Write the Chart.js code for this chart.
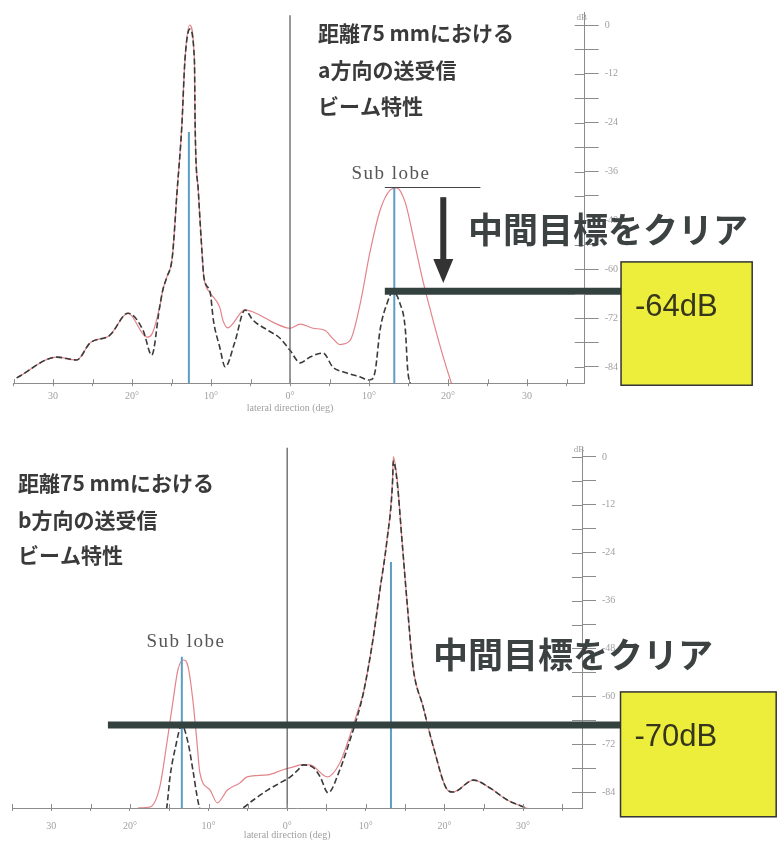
<!DOCTYPE html>
<html>
<head>
<meta charset="utf-8">
<script src="https://cdn.jsdelivr.net/npm/chart.js@4.4.0/dist/chart.umd.min.js"></script>
<style>
  body { margin: 0; background: #fff; width: 777px; height: 849px; overflow: hidden; position: relative; }
  .wrap { position: absolute; left: 0; width: 777px; }
  #wrapA { top: 0; height: 420px; }
  #wrapB { top: 420px; height: 429px; }
</style>
</head>
<body>
<div class="wrap" id="wrapA"><canvas id="chartA"></canvas></div>
<div class="wrap" id="wrapB"><canvas id="chartB"></canvas></div>
<script>
// ---- a方向 (upper plot) ----
const aRedDeg = [-34.6, -29.5, -27.0, -25.3, -22.8, -20.5, -18.1, -17.5, -16.5, -16.1, -15.6, -14.9, -14.3, -13.7, -13.3, -12.7, -12.1, -12.0, -11.6, -11.1, -10.9, -10.1, -8.9, -8.5, -7.9, -5.7, -3.8, -2.2, -0.4, 0.0, 1.3, 2.9, 4.4, 5.4, 6.3, 7.6, 8.9, 10.1, 11.4, 12.7, 13.5, 14.6, 15.6, 16.8, 18.1, 19.4, 20.3, 21.0];
const aRedDb = [-86.7, -81.6, -82.3, -78.1, -76.2, -70.8, -76.7, -76.0, -69.3, -65.1, -62.0, -57.0, -41.0, -25.0, -8.6, 0, -8.6, -25.8, -41.0, -57.0, -62.0, -65.8, -69.3, -72.5, -74.4, -70.0, -71.3, -73.0, -74.4, -74.5, -73.5, -74.5, -75.0, -77.0, -78.5, -77.5, -68.3, -56.0, -45.5, -40.5, -40.0, -43.7, -52.1, -62.7, -72.5, -81.6, -87.2, -91.0];
const aBlackDeg = [-34.6, -29.5, -27.0, -25.3, -22.8, -20.5, -18.6, -17.5, -16.5, -16.1, -15.6, -14.9, -14.3, -13.7, -13.3, -12.7, -12.1, -12.0, -11.6, -11.1, -10.9, -10.1, -9.7, -8.9, -8.2, -7.0, -5.7, -4.7, -2.9, -1.3, 0.0, 1.3, 2.5, 4.2, 5.4, 7.2, 8.9, 9.9, 10.4, 10.8, 11.4, 12.3, 13.0, 13.9, 14.6, 14.9, 15.4, 15.8];
const aBlackDb = [-86.7, -81.6, -82.3, -78.1, -76.2, -70.8, -75.0, -81.1, -69.3, -65.1, -62.0, -57.0, -41.0, -25.0, -8.6, -1.0, -8.6, -25.8, -41.0, -57.0, -62.0, -65.8, -72.5, -79.1, -84.0, -78.0, -70.0, -72.5, -74.9, -76.9, -79.9, -83.0, -81.6, -80.6, -84.0, -85.5, -86.5, -87.2, -87.0, -84.8, -74.9, -68.3, -65.6, -68.3, -74.9, -84.8, -89.0, -92.0];
const aMarkerDeg = [-12.8, 13.2];
const aMarkerDb = [-26.3, -40.0];
const aTargetDeg = [12.0, 41.9];
const aTargetDb = -65.4;

// ---- b方向 (lower plot) ----
const bRedDeg = [-19.0, -17.4, -16.2, -15.3, -14.5, -13.9, -13.2, -12.6, -12.0, -11.5, -11.1, -9.8, -8.9, -7.6, -6.0, -5.1, -2.5, -0.5, 0.8, 1.7, 2.9, 5.1, 6.7, 7.8, 8.9, 9.7, 10.9, 11.8, 12.7, 13.4, 13.5, 14.0, 14.6, 15.3, 16.0, 17.3, 18.6, 20.4, 21.1, 23.7, 25.8, 28.0, 30.0, 31.8];
const bRedDb = [-88.0, -87.7, -82.7, -71.7, -60.9, -53.4, -50.9, -52.6, -60.9, -70.9, -79.2, -83.5, -86.7, -83.5, -81.7, -80.2, -79.7, -78.4, -77.7, -77.2, -77.2, -80.2, -76.7, -70.9, -64.2, -59.1, -45.9, -33.3, -20.8, -5.8, 0, -5.8, -20.8, -37.6, -52.6, -62.7, -72.7, -83.5, -84.0, -81.0, -83.0, -86.0, -87.7, -89.2];
const bBlackDeg = [-15.8, -15.3, -14.9, -14.2, -13.4, -12.6, -12.0, -11.3, -10.7, -8.5, -6.0, -4.3, -2.5, -0.9, 0.4, 1.4, 2.0, 3.2, 4.2, 5.2, 6.7, 8.0, 8.9, 9.7, 10.9, 11.8, 12.7, 13.4, 13.5, 14.0, 14.6, 15.3, 16.0, 17.3, 18.6, 20.4, 21.1, 23.7, 25.8, 28.0, 30.0, 31.8];
const bBlackDb = [-92.7, -87.7, -80.2, -72.7, -67.2, -71.7, -78.4, -86.7, -90.2, -91.0, -88.5, -86.0, -83.5, -81.7, -80.2, -78.4, -77.2, -77.7, -80.2, -84.2, -78.4, -70.9, -65.2, -59.1, -45.9, -33.3, -20.8, -6.5, -1.0, -6.5, -20.8, -37.6, -52.6, -62.7, -72.7, -83.5, -84.0, -81.0, -83.0, -86.0, -87.7, -89.2];
const bMarkerDeg = [-13.4, 13.2];
const bMarkerDb = [-50.1, -26.3];
const bTargetDeg = [-22.8, 42.4];
const bTargetDb = -67.2;

// ---- axes ----
const dbTicks = [0, -6, -12, -18, -24, -30, -36, -42, -48, -54, -60, -66, -72, -78, -84];
const degTicks = [-35, -30, -25, -20, -15, -10, -5, 0, 5, 10, 15, 20, 25, 30, 35];
const degLabelAt = [-30, -20, -10, 0, 10, 20, 30];
const aDegLabels = ['30', '20°', '10°', '0°', '10°', '20°', '30'];
const bDegLabels = ['30', '20°', '10°', '0°', '10°', '20°', '30°'];
const DB_MIN = -88;

const RED = 'rgba(222,110,116,0.85)';
const BLACK = '#3a3a3a';
const BLUE = '#5b9ec4';
const AXIS = '#8c8c8c';
const LABEL = '#a0a0a0';
const JP = '"Noto Sans CJK JP", sans-serif';

const pts = (xs, ys) => xs.map((v, i) => ({ x: v, y: ys[i] }));

// texts, arrow and result boxes drawn over the plot
const overlay = {
  id: 'overlay',
  afterDraw(chart, args, o) {
    const { ctx } = chart;
    const x = chart.scales.x, y = chart.scales.y;
    ctx.save();

    // dB axis ticks cross the axis; the outer half comes from the grid
    ctx.strokeStyle = AXIS;
    ctx.lineWidth = 1;
    y.ticks.forEach(t => {
      const py = Math.round(y.getPixelForValue(t.value)) + 0.5;
      ctx.beginPath(); ctx.moveTo(x.right - 10, py); ctx.lineTo(x.right, py); ctx.stroke();
    });
    x.ticks.forEach(t => {
      const px = Math.round(x.getPixelForValue(t.value)) + 0.5;
      ctx.beginPath(); ctx.moveTo(px, y.bottom - 4); ctx.lineTo(px, y.bottom); ctx.stroke();
    });

    ctx.fillStyle = LABEL;
    ctx.textAlign = 'center';
    ctx.textBaseline = 'middle';
    ctx.font = '9px "Liberation Serif"';
    ctx.fillText('dB', x.right - 3, y.top + o.dbDy);
    ctx.font = '10px "Liberation Serif"';
    ctx.fillText('lateral direction (deg)', x.getPixelForValue(0), o.titleY);

    if (o.underline) {
      const u = o.underline;
      const py = Math.round(y.getPixelForValue(u.db)) + 0.5;
      ctx.strokeStyle = '#444';
      ctx.beginPath(); ctx.moveTo(x.getPixelForValue(u.deg[0]), py); ctx.lineTo(x.getPixelForValue(u.deg[1]), py); ctx.stroke();
    }

    if (o.arrow) {
      const a = o.arrow;
      const px = x.getPixelForValue(a.deg);
      const y0 = y.getPixelForValue(a.db[0]), y1 = y.getPixelForValue(a.db[1]);
      ctx.fillStyle = '#333';
      ctx.fillRect(px - 3, y0, 6, y1 - y0 - 20);
      ctx.beginPath();
      ctx.moveTo(px - 10, y1 - 24); ctx.lineTo(px + 10, y1 - 24); ctx.lineTo(px, y1); ctx.closePath();
      ctx.fill();
    }

    o.notes.forEach(n => {
      ctx.font = n.font;
      ctx.fillStyle = n.color;
      ctx.textAlign = n.align || 'left';
      ctx.letterSpacing = n.spacing || '0px';
      ctx.fillText(n.text, n.x, n.y);
    });
    ctx.letterSpacing = '0px';

    const b = o.box;
    const bx0 = x.getPixelForValue(b.deg[0]), bx1 = x.getPixelForValue(b.deg[1]);
    const by0 = y.getPixelForValue(b.db[0]), by1 = y.getPixelForValue(b.db[1]);
    ctx.fillStyle = '#eded3c';
    ctx.fillRect(bx0, by0, bx1 - bx0, by1 - by0);
    ctx.strokeStyle = '#333';
    ctx.lineWidth = 1.5;
    ctx.strokeRect(bx0, by0, bx1 - bx0, by1 - by0);
    ctx.fillStyle = '#36361e';
    ctx.font = '31px "Liberation Sans", Arial, sans-serif';
    ctx.textAlign = 'left';
    ctx.fillText(b.text, bx0 + 14, by0 + 46);

    ctx.restore();
  }
};

function beamChart(id, s) {
  const markers = s.markerDeg.map((d, i) => ({
    data: [{ x: d, y: s.markerDb[i] }, { x: d, y: DB_MIN }],
    borderColor: BLUE, borderWidth: 2, pointRadius: 0
  }));
  return new Chart(document.getElementById(id), {
    type: 'line',
    data: {
      datasets: [
        { data: [{ x: s.targetDeg[0], y: s.targetDb }, { x: s.targetDeg[1], y: s.targetDb }],
          borderColor: '#34423f', borderWidth: 7, pointRadius: 0, clip: false },
        ...markers,
        { data: [{ x: 0, y: s.zeroTop }, { x: 0, y: DB_MIN }], borderColor: '#555', borderWidth: 1.2, pointRadius: 0 },
        { data: pts(s.blackDeg, s.blackDb), borderColor: BLACK, borderWidth: 1.6, borderDash: [6, 3],
          pointRadius: 0, cubicInterpolationMode: 'monotone' },
        { data: pts(s.redDeg, s.redDb), borderColor: RED, borderWidth: 1.2,
          pointRadius: 0, cubicInterpolationMode: 'monotone' }
      ]
    },
    options: {
      animation: false,
      responsive: true,
      maintainAspectRatio: false,
      layout: { padding: { left: s.padL, right: s.padR, top: s.padT, bottom: 0 } },
      plugins: { legend: { display: false }, tooltip: { enabled: false }, overlay: s.overlay },
      scales: {
        x: {
          type: 'linear', min: -35, max: s.xMax,
          afterBuildTicks: sc => { sc.ticks = degTicks.map(v => ({ value: v })); },
          afterFit: sc => { sc.height = s.xAxisH; sc.paddingLeft = 0; sc.paddingRight = 0; },
          grid: { drawOnChartArea: false, tickLength: 3, color: AXIS },
          border: { color: AXIS },
          ticks: {
            autoSkip: false, maxRotation: 0, padding: s.xTickPad, color: LABEL,
            font: { family: 'Liberation Serif', size: 10 },
            callback: v => { const i = degLabelAt.indexOf(v); return i < 0 ? '' : s.degLabels[i]; }
          }
        },
        y: {
          type: 'linear', position: 'right', min: DB_MIN, max: s.yMax,
          afterBuildTicks: sc => { sc.ticks = dbTicks.map(v => ({ value: v })); },
          afterFit: sc => { sc.width = 40; sc.paddingTop = 0; sc.paddingBottom = 0; },
          grid: { drawOnChartArea: false, tickLength: 14, color: AXIS },
          border: { color: AXIS },
          ticks: {
            padding: 6, color: LABEL,
            font: { family: 'Liberation Serif', size: 10 },
            callback: v => (v % 12 === 0 ? String(v) : '')
          }
        }
      }
    },
    plugins: [overlay]
  });
}

beamChart('chartA', {
  redDeg: aRedDeg, redDb: aRedDb, blackDeg: aBlackDeg, blackDb: aBlackDb,
  markerDeg: aMarkerDeg, markerDb: aMarkerDb, targetDeg: aTargetDeg, targetDb: aTargetDb,
  degLabels: aDegLabels, xMax: 37.3, yMax: 3, zeroTop: 2.4,
  padL: 13.5, padR: 152.3, padT: 12.8, xAxisH: 36.8, xTickPad: 4,
  overlay: {
    dbDy: 5, titleY: 408,
    underline: { deg: [12.0, 24.1], db: -39.8 },
    arrow: { deg: 19.4, db: [-42.3, -63.4] },
    box: { deg: [41.9, 58.5], db: [-58.2, -88.5], text: '-64dB' },
    notes: [
      { text: '距離75 mmにおける', x: 318, y: 33, font: 'bold 21px ' + JP, color: '#3a3a3a' },
      { text: 'a方向の送受信', x: 318, y: 70, font: 'bold 21px ' + JP, color: '#3a3a3a' },
      { text: 'ビーム特性', x: 318, y: 106, font: 'bold 21px ' + JP, color: '#3a3a3a' },
      { text: 'Sub lobe', x: 391, y: 174, font: '19px "Liberation Serif"', color: '#555', align: 'center', spacing: '1.5px' },
      { text: '中間目標をクリア', x: 468, y: 230, font: 'bold 35px ' + JP, color: '#3c4242' }
    ]
  }
});

beamChart('chartB', {
  redDeg: bRedDeg, redDb: bRedDb, blackDeg: bBlackDeg, blackDb: bBlackDb,
  markerDeg: bMarkerDeg, markerDb: bMarkerDb, targetDeg: bTargetDeg, targetDb: bTargetDb,
  degLabels: bDegLabels, xMax: 37.5, yMax: 2.5, zeroTop: 2.3,
  padL: 12, padR: 155, padT: 27, xAxisH: 41, xTickPad: 9,
  overlay: {
    dbDy: 3, titleY: 415,
    box: { deg: [42.4, 62.2], db: [-58.9, -90.2], text: '-70dB' },
    notes: [
      { text: '距離75 mmにおける', x: 18, y: 63, font: 'bold 21px ' + JP, color: '#3a3a3a' },
      { text: 'b方向の送受信', x: 18, y: 100, font: 'bold 21px ' + JP, color: '#3a3a3a' },
      { text: 'ビーム特性', x: 18, y: 135, font: 'bold 21px ' + JP, color: '#3a3a3a' },
      { text: 'Sub lobe', x: 186, y: 222, font: '19px "Liberation Serif"', color: '#555', align: 'center', spacing: '1.5px' },
      { text: '中間目標をクリア', x: 433, y: 235, font: 'bold 35px ' + JP, color: '#3c4242' }
    ]
  }
});
</script>
</body>
</html>
